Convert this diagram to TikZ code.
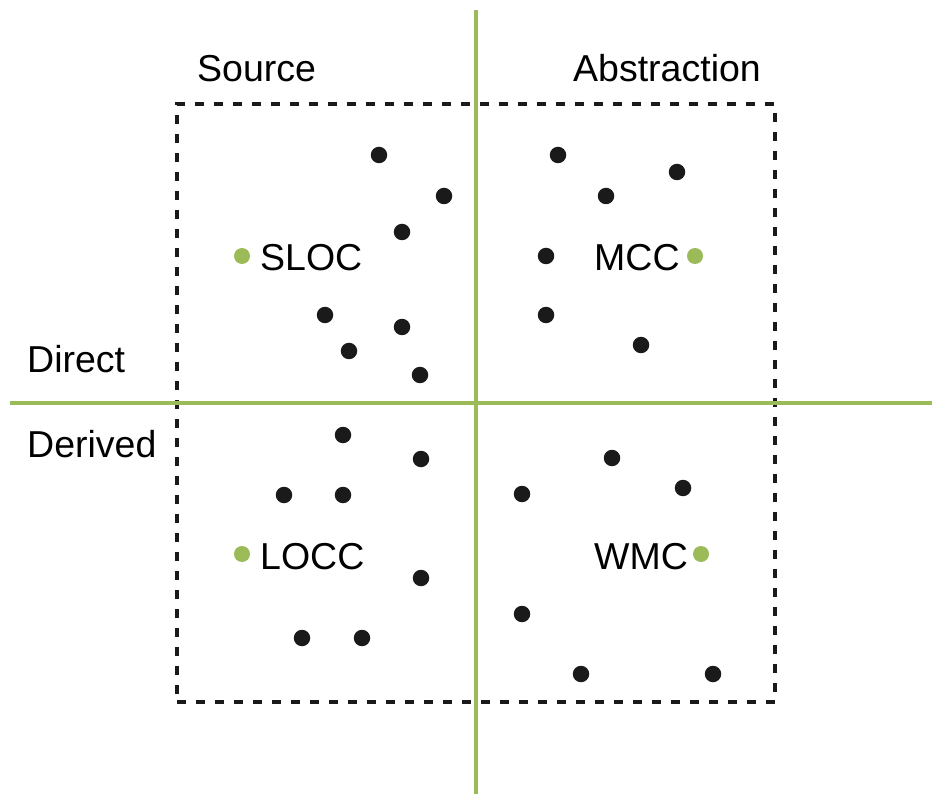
\documentclass[tikz,border=0pt]{standalone}
\usepackage{fontspec}
\setmainfont{Liberation Sans}
\definecolor{lgreen}{HTML}{9BBB59}
\definecolor{dotblack}{HTML}{1A1A1A}
\begin{document}
\begin{tikzpicture}[x=1pt,y=-1pt,
  dot/.style={circle,fill=dotblack,inner sep=0pt,minimum size=16.5pt},
  gdot/.style={circle,fill=lgreen,inner sep=0pt,minimum size=16pt},
  lbl/.style={anchor=base west,inner sep=0pt,font=\fontsize{37.5}{45}\selectfont},
  axis/.style={draw=lgreen,line width=4pt},
  frame/.style={draw=dotblack,line width=4pt,dash pattern=on 9pt off 10pt}]
\useasboundingbox (0,0) rectangle (932,794);
% frame
\node[frame,minimum width=598pt,minimum height=598pt,inner sep=0pt] (box) at (476,403) {};
% axes
\coordinate (vt) at (475.5,10);
\coordinate (vb) at (475.5,794);
\coordinate (hl) at (10,403);
\coordinate (hr) at (932,403);
\draw[axis] (vt) -- (vb);
\draw[axis] (hl) -- (hr);
% labels
\node[lbl] (src) at (197,82) {Source};
\node[lbl] (abs) at (573,82) {Abstraction};
\node[lbl] (dir) at (27,373) {Direct};
\node[lbl] (der) at (27,457) {Derived};
% metric labels
\node[gdot] (g1) at (242,256) {};
\node[lbl] (sloc) at (260,271) {SLOC};
\node[gdot] (g2) at (695,256) {};
\node[lbl] (mcc) at (594,271) {MCC};
\node[gdot] (g3) at (242,554) {};
\node[lbl] (locc) at (260,569) {LOCC};
\node[gdot] (g4) at (701,554) {};
\node[lbl] (wmc) at (594,569) {WMC};
% dots top-left
\node[dot] (a1) at (379,155) {};
\node[dot] (a2) at (444,196) {};
\node[dot] (a3) at (402,232) {};
\node[dot] (a4) at (325,315) {};
\node[dot] (a5) at (402,327) {};
\node[dot] (a6) at (349,351) {};
\node[dot] (a7) at (420,375) {};
% top-right
\node[dot] (b1) at (558,155) {};
\node[dot] (b2) at (677,172) {};
\node[dot] (b3) at (606,196) {};
\node[dot] (b4) at (546,256) {};
\node[dot] (b5) at (546,315) {};
\node[dot] (b6) at (641,345) {};
% bottom-left
\node[dot] (c1) at (343,435) {};
\node[dot] (c2) at (421,459) {};
\node[dot] (c3) at (284,495) {};
\node[dot] (c4) at (343,495) {};
\node[dot] (c5) at (421,578) {};
\node[dot] (c6) at (302,638) {};
\node[dot] (c7) at (362,638) {};
% bottom-right
\node[dot] (e1) at (612,458) {};
\node[dot] (e2) at (522,494) {};
\node[dot] (e3) at (683,488) {};
\node[dot] (e4) at (522,614) {};
\node[dot] (e5) at (581,674) {};
\node[dot] (e6) at (713,674) {};
\end{tikzpicture}
\end{document}
